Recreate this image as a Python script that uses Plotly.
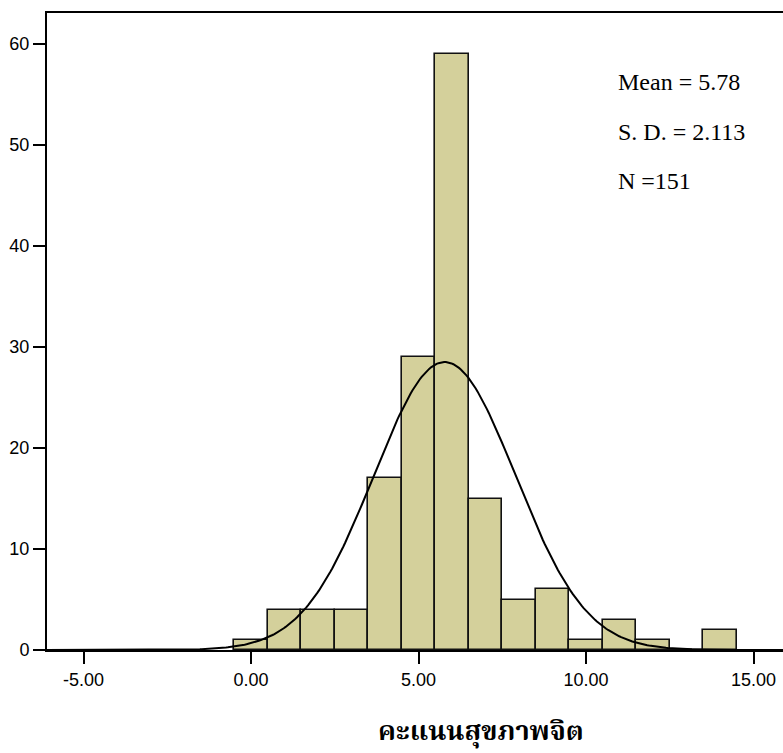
import numpy as np
import plotly.graph_objects as go

# Data
bin_centers = [0, 1, 2, 3, 4, 5, 6, 7, 8, 9, 10, 11, 12, 13, 14]
counts = [1, 4, 4, 4, 17, 29, 59, 15, 5, 6, 1, 3, 1, 0, 2]
mean_val = 5.78
sd_val = 2.113
n_val = 151
bin_width = 1.0

x_tick_vals = [-5, 0, 5, 10, 15]
x_tick_text = ["-5.00", "0.00", "5.00", "10.00", "15.00"]
y_tick_vals = [0, 10, 20, 30, 40, 50, 60]
x_title = "คะแนนสุขภาพจิต"
stats_text = ["Mean = 5.78", "S. D. = 2.113", "N =151"]

# Fitted normal curve from the stated mean / SD / N
xs = np.linspace(-6.2, 16.0, 400)
ys = n_val * bin_width / (sd_val * np.sqrt(2 * np.pi)) * np.exp(-0.5 * ((xs - mean_val) / sd_val) ** 2)

fig = go.Figure()
fig.add_trace(go.Bar(
    x=bin_centers, y=counts, width=bin_width,
    marker=dict(color="#d4d09b", line=dict(color="#111111", width=1.6)),
    showlegend=False, hoverinfo="x+y",
))
fig.add_trace(go.Scatter(
    x=xs, y=ys, mode="lines", line=dict(color="black", width=2),
    showlegend=False, hoverinfo="skip",
))

W, H = 783, 753
ml, mr, mt, mb = 47, 0, 13, 103

fig.update_layout(
    width=W, height=H,
    margin=dict(l=ml, r=mr, t=mt, b=mb, pad=0),
    paper_bgcolor="white", plot_bgcolor="white",
    bargap=0,
    font=dict(family="Liberation Sans, Arial, sans-serif", size=18, color="black"),
    xaxis=dict(
        range=[-6.09, 15.88], tickmode="array", tickvals=x_tick_vals, ticktext=x_tick_text,
        showgrid=False, zeroline=False, showline=True, linecolor="black", linewidth=2,
        ticks="outside", ticklen=12, tickwidth=2, tickcolor="black", mirror=True,
        tickfont=dict(size=18),
    ),
    yaxis=dict(
        range=[0, 63.07], tickmode="array", tickvals=y_tick_vals,
        showgrid=False, zeroline=False, showline=True, linecolor="black", linewidth=2,
        ticks="outside", ticklen=12, tickwidth=2, tickcolor="black",
        tickfont=dict(size=18),
    ),
)

plot_w = W - ml - mr
plot_h = H - mt - mb

def px_to_paper_x(px):
    return (px - ml) / plot_w

def px_to_paper_y(py):
    return (H - mb - py) / plot_h

stat_y_px = [82, 132, 181]
for txt, py in zip(stats_text, stat_y_px):
    fig.add_annotation(
        text=txt, xref="paper", yref="paper",
        x=px_to_paper_x(616), y=px_to_paper_y(py),
        xanchor="left", yanchor="middle", showarrow=False,
        font=dict(family="Liberation Serif, Times New Roman, serif", size=24, color="black"),
    )

fig.add_annotation(
    text="<b>" + x_title + "</b>", xref="paper", yref="paper",
    x=px_to_paper_x(481), y=px_to_paper_y(732),
    xanchor="center", yanchor="middle", showarrow=False,
    font=dict(family="Noto Serif Thai, Noto Sans Thai, Loma, Garuda, Norasi, serif", size=27, color="black"),
)

fig.write_html(
    "out.html",
    config={"displayModeBar": False},
    post_script="document.body.style.margin='0';document.body.style.padding='0';",
)
